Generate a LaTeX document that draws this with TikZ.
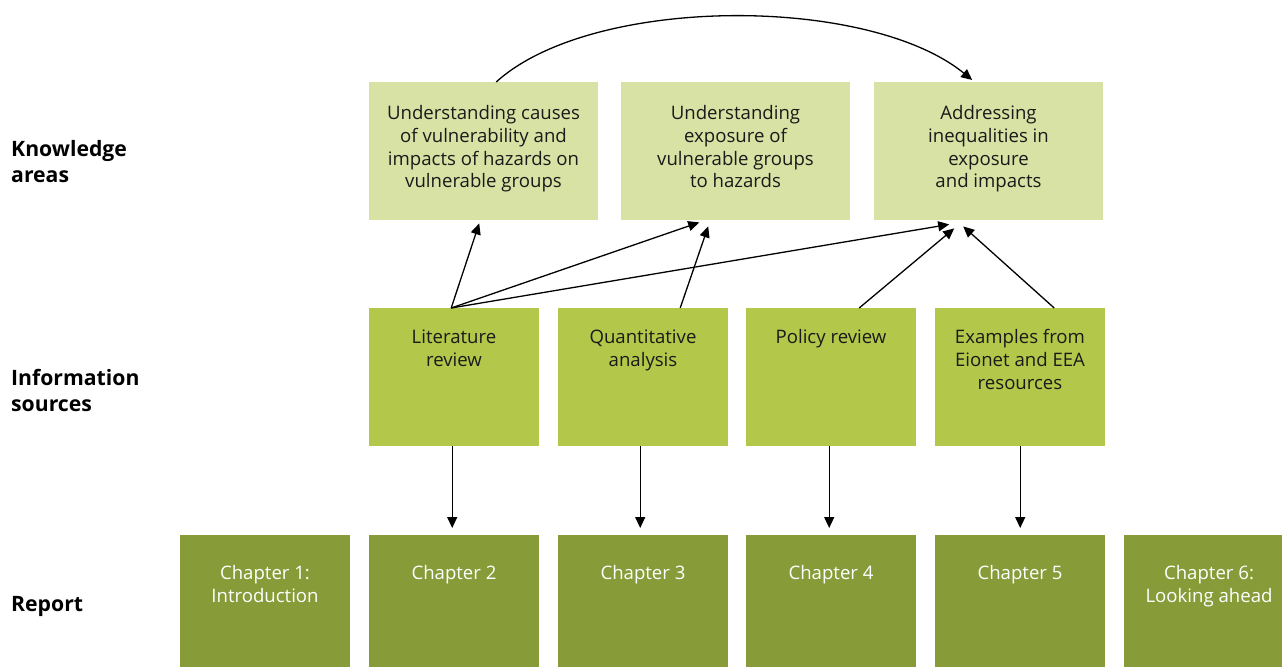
\documentclass[tikz,border=0pt]{standalone}
\usepackage{fontspec}
\setmainfont{Open Sans}
\usetikzlibrary{arrows.meta}
\definecolor{kacol}{RGB}{216,226,164}
\definecolor{iscol}{RGB}{179,200,74}
\definecolor{rpcol}{RGB}{135,155,57}
\definecolor{ink}{RGB}{26,26,26}
\begin{document}
\begin{tikzpicture}[x=1pt,y=-1pt,
  kabox/.style={fill=kacol,draw=none,inner sep=0pt,minimum width=229pt,minimum height=138pt,anchor=north west},
  isbox/.style={fill=iscol,draw=none,inner sep=0pt,minimum width=170pt,minimum height=138pt,anchor=north west},
  rpbox/.style={fill=rpcol,draw=none,inner sep=0pt,minimum width=170pt,minimum height=132pt,anchor=north west},
  btxt/.style={inner sep=0pt,anchor=north,align=center,text=ink,font=\fontsize{18.6}{22.7}\selectfont},
  wtxt/.style={inner sep=0pt,anchor=north,align=center,text=white,font=\fontsize{18.6}{22.5}\selectfont},
  rowlab/.style={inner sep=0pt,anchor=north west,align=left,text=black,font=\bfseries\fontsize{21.2}{26}\selectfont},
  arr/.style={draw=black,line width=1.3pt,-{Triangle[length=11pt,width=10pt]}}
]
\useasboundingbox (0,0) rectangle (1282,667);
\clip (0,0) rectangle (1282,667);

% row labels
\node[rowlab] (labka) at (11,140.5) {Knowledge\\areas};
\node[rowlab] (labis) at (11,369.5) {Information\\sources};
\node[rowlab] (labrp) at (11,596.5) {Report};

% knowledge areas
\node[kabox] (k1) at (369,82) {};
\node[kabox] (k2) at (621,82) {};
\node[kabox] (k3) at (874,82) {};
\node[btxt] (k1t) at (483.5,105.3) {Understanding causes\\of vulnerability and\\impacts of hazards on\\vulnerable groups};
\node[btxt] (k2t) at (735.5,105.3) {Understanding\\exposure of\\vulnerable groups\\to hazards};
\node[btxt] (k3t) at (988.5,105.3) {Addressing\\inequalities in\\exposure\\and impacts};

% information sources
\node[isbox] (i1) at (369,308) {};
\node[isbox] (i2) at (558,308) {};
\node[isbox] (i3) at (746,308) {};
\node[isbox] (i4) at (935,308) {};
\node[btxt] (i1t) at (454,329.5) {Literature\\review};
\node[btxt] (i2t) at (643,329.5) {Quantitative\\analysis};
\node[btxt] (i3t) at (831,329.5) {Policy review};
\node[btxt] (i4t) at (1020,329.5) {Examples from\\Eionet and EEA\\resources};

% report
\node[rpbox] (r1) at (180,535) {};
\node[rpbox] (r2) at (369,535) {};
\node[rpbox] (r3) at (558,535) {};
\node[rpbox] (r4) at (746,535) {};
\node[rpbox] (r5) at (935,535) {};
\node[rpbox,minimum width=158pt] (r6) at (1124,535) {};
\node[wtxt] (r1t) at (265,565.5) {Chapter 1:\\Introduction};
\node[wtxt] (r2t) at (454,565.5) {Chapter 2};
\node[wtxt] (r3t) at (643,565.5) {Chapter 3};
\node[wtxt] (r4t) at (831,565.5) {Chapter 4};
\node[wtxt] (r5t) at (1020,565.5) {Chapter 5};
\node[wtxt] (r6t) at (1209,565.5) {Chapter 6:\\Looking ahead};

% arrows up to knowledge areas
\draw[arr] ([xshift=-3pt]i1.north) -- ([xshift=-4.5pt,yshift=-3pt]k1.south);
\draw[arr] ([xshift=-3pt]i1.north) -- ([xshift=-36.5pt,yshift=-2pt]k2.south);
\draw[arr] ([xshift=-3pt]i1.north) -- ([xshift=-39.5pt,yshift=-4pt]k3.south);
\draw[arr] ([xshift=37pt]i2.north) -- ([xshift=-27.5pt,yshift=-6pt]k2.south);
\draw[arr] ([xshift=28pt]i3.north) -- ([xshift=-34.5pt,yshift=-8pt]k3.south);
\draw[arr] ([xshift=34pt]i4.north) -- ([xshift=-25.5pt,yshift=-6pt]k3.south);

% curved arrow
\draw[arr] ([xshift=12.5pt]k1.north) .. controls (592,-5) and (868,-5) .. ([xshift=-16.5pt,yshift=2pt]k3.north);

% arrows down to report
\draw[arr] ([xshift=-2pt]i1.south) -- ([xshift=-2pt,yshift=7pt]r2.north);
\draw[arr] ([xshift=-3pt]i2.south) -- ([xshift=-3pt,yshift=7pt]r3.north);
\draw[arr] ([xshift=-2pt]i3.south) -- ([xshift=-2pt,yshift=7pt]r4.north);
\draw[arr] ([xshift=0pt]i4.south) -- ([xshift=0pt,yshift=7pt]r5.north);
\end{tikzpicture}
\end{document}
